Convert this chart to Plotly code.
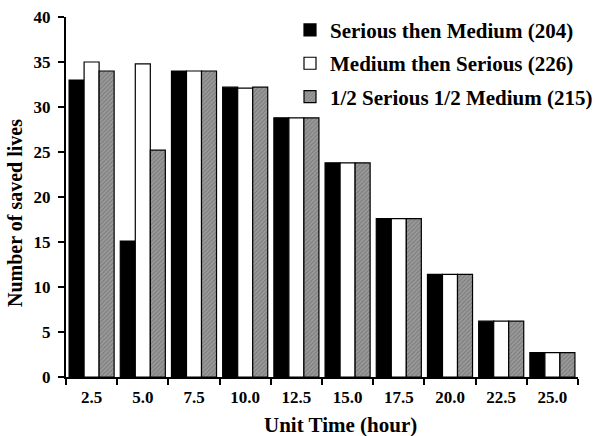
import plotly.graph_objects as go

hours = ["2.5", "5.0", "7.5", "10.0", "12.5", "15.0", "17.5", "20.0", "22.5", "25.0"]
serious_then_medium = [33.0, 15.1, 34.0, 32.2, 28.8, 23.8, 17.6, 11.4, 6.2, 2.7]
medium_then_serious = [35.0, 34.8, 34.0, 32.1, 28.8, 23.8, 17.6, 11.4, 6.2, 2.7]
half_half = [34.0, 25.2, 34.0, 32.2, 28.8, 23.8, 17.6, 11.4, 6.2, 2.7]

serif = "Liberation Serif, Times New Roman, serif"
outline = dict(color="black", width=1.2)

fig = go.Figure()
fig.add_trace(go.Bar(x=hours, y=serious_then_medium, name="Serious then Medium (204)",
                     legendgroup="a",
                     marker=dict(color="black", line=outline)))
fig.add_trace(go.Bar(x=hours, y=medium_then_serious, name="Medium then Serious (226)",
                     legendgroup="b",
                     marker=dict(color="white", line=outline)))
fig.add_trace(go.Bar(x=hours, y=half_half, name="1/2 Serious 1/2 Medium (215)",
                     legendgroup="c",
                     marker=dict(color="#8c8c8c", line=outline,
                                 pattern=dict(shape="/", fgcolor="#5a5a5a", bgcolor="#9a9a9a",
                                              size=3, solidity=0.35))))

fig.update_layout(
    width=599, height=436,
    margin=dict(l=66, r=21, t=17, b=59, autoexpand=False),
    plot_bgcolor="white", paper_bgcolor="white",
    barmode="group", bargap=0.12, bargroupgap=0,
    font=dict(family=serif, size=17, color="black", weight="bold"),
    showlegend=True,
    legend=dict(x=0.4375, xanchor="left", y=1.02, yanchor="top",
                font=dict(family=serif, size=21, color="black", weight="bold"),
                bgcolor="rgba(0,0,0,0)", tracegroupgap=3, itemwidth=30),
    xaxis=dict(
        range=[-0.5, 9.5], showline=True, linecolor="black", linewidth=2,
        ticks="outside", tickson="boundaries", ticklen=6, tickwidth=2, tickcolor="black",
        showgrid=False, tickfont=dict(size=17, weight="bold"), ticklabelstandoff=4,
    ),
    yaxis=dict(
        range=[0, 40], dtick=5, showline=True, linecolor="black", linewidth=2,
        ticks="outside", ticklen=6, tickwidth=2, tickcolor="black",
        showgrid=False, zeroline=False, tickfont=dict(size=17, weight="bold"),
        ticklabelstandoff=4,
    ),
    annotations=[
        dict(text="Unit Time (hour)", xref="paper", yref="paper",
             x=(340 - 66) / 512, y=-(425 - 377) / 360, xanchor="center", yanchor="middle",
             showarrow=False, font=dict(family=serif, size=21, weight="bold")),
        dict(text="Number of saved lives", xref="paper", yref="paper",
             x=-(66 - 15) / 512, y=(377 - 213) / 360, xanchor="center", yanchor="middle",
             textangle=-90, showarrow=False, font=dict(family=serif, size=20, weight="bold")),
    ],
)

fig.write_html("out.html")
